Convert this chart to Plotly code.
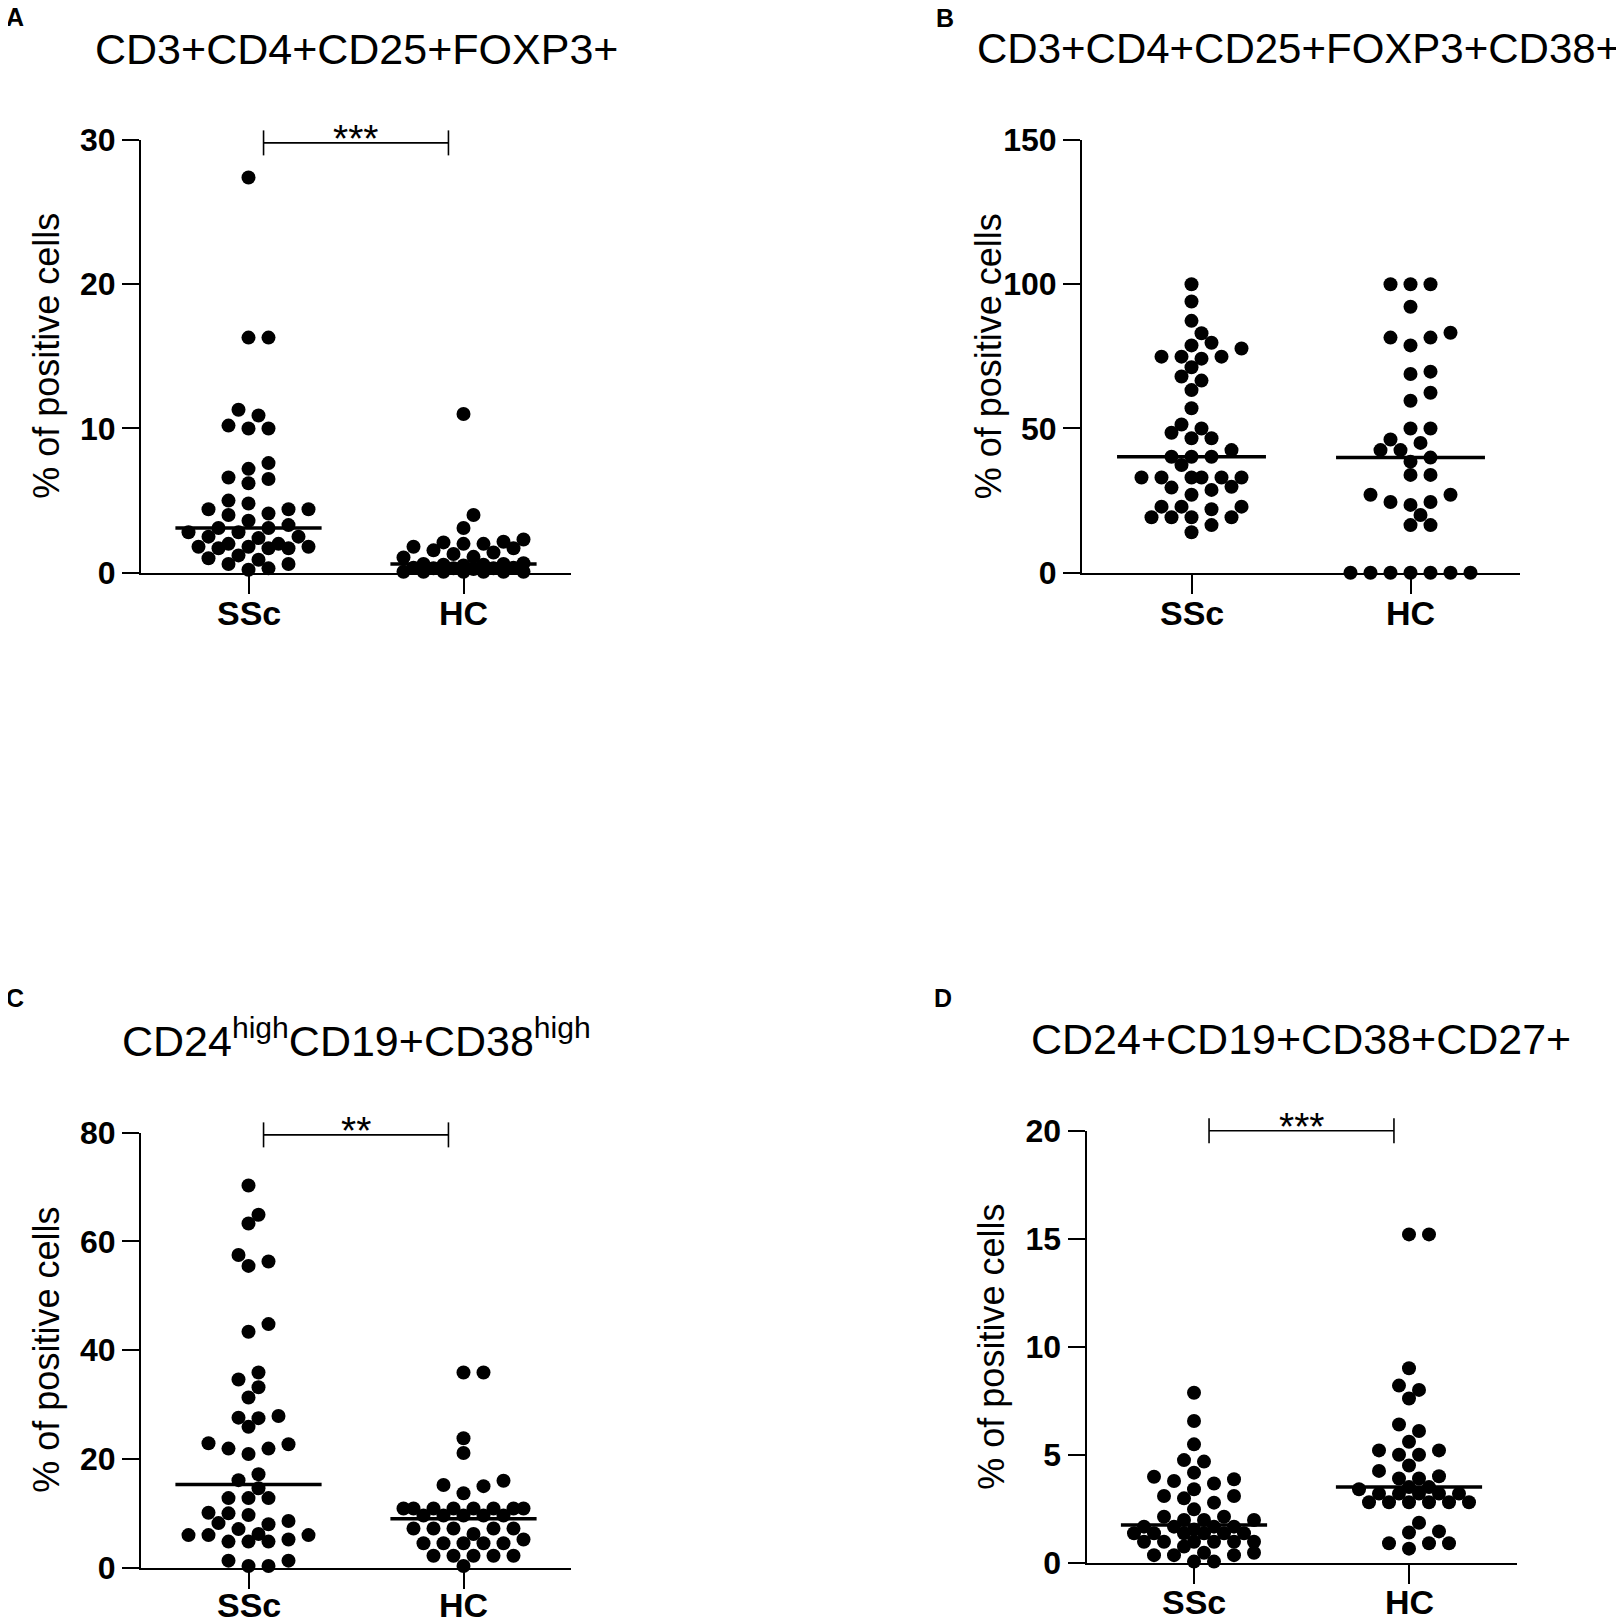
import plotly.graph_objects as go

W, H = 1624, 1620
OFF = 8  # the page puts the figure 8 px in from the top-left corner
FONT = "Liberation Sans, Arial, sans-serif"

# groups on the x axis
categories = ["SSc", "HC"]

# A: CD3+CD4+CD25+FOXP3+ (% of positive cells)
a_ssc = [27.4, 16.3, 16.3, 11.3, 10.9, 10.2, 10.0, 10.0, 7.6, 7.2, 6.6, 6.5, 6.2,
         5.0, 4.8, 4.4, 4.4, 4.4, 4.1, 4.0, 3.6, 3.3, 3.1, 3.1, 2.8, 2.8, 2.5, 2.5,
         2.4, 2.0, 2.0, 1.8, 1.8, 1.8, 1.7, 1.7, 1.7, 1.2, 1.0, 0.9, 0.6, 0.6, 0.3, 0.2]
a_hc = [11.0, 4.0, 3.1, 2.3, 2.15, 2.1, 2.0, 2.0, 1.8, 1.7, 1.55, 1.4, 1.3, 1.1, 1.05,
        0.65, 0.6, 0.6, 0.55, 0.55, 0.5, 0.35, 0.35, 0.3, 0.3, 0.3, 0.25,
        0.07, 0.07, 0.07, 0.07, 0.07, 0.07, 0.07]
a_median = [3.1, 0.6]

# B: CD3+CD4+CD25+FOXP3+CD38+
b_ssc = [100, 94, 87.3, 83, 79.7, 78.8, 77.7, 74.9, 74.9, 74.9, 74.2, 71.2, 68, 66.6,
         63.3, 57, 51.4, 50, 48.5, 46.6, 46.6, 42.5, 40.2, 40.2, 40.2, 37.3, 33, 33,
         33, 33, 33, 33, 29.8, 29.5, 28.7, 27, 22.9, 22.9, 22.9, 22, 19.2, 19.2, 19.2,
         19.2, 16.5, 14]
b_hc = [100, 100, 100, 92.2, 83.2, 81.5, 81.5, 78.8, 69.7, 68.9, 62.4, 59.6, 50, 50,
        46.2, 45, 42.5, 42.5, 39.9, 38.5, 33.9, 33.9, 27, 27, 24.5, 24.5, 23.5, 20,
        16.5, 16.5, 0, 0, 0, 0, 0, 0, 0]
b_median = [40.2, 39.9]

# C: CD24highCD19+CD38high
c_ssc = [70.3, 64.9, 63.3, 57.5, 56.3, 55.5, 44.8, 43.4, 35.9, 34.6, 33.2, 31.3, 27.9,
         27.6, 27.5, 25.9, 22.9, 22.7, 21.9, 21.9, 20.9, 17.2, 16.1, 14.6, 12.8, 12.8,
         12.8, 10.1, 10.0, 9.7, 8.6, 8.2, 8.0, 7.1, 6.2, 6.0, 6.0, 6.0, 5.2, 4.8, 4.8,
         4.8, 1.3, 1.3, 0.3, 0.3]
c_hc = [35.9, 35.9, 23.8, 21.1, 16.0, 15.2, 15.0, 13.7,
        10.9, 10.9, 10.9, 10.9, 10.9, 10.9, 10.9, 10.9,
        9.6, 9.6, 9.6, 9.6, 9.6, 7.2, 7.2, 7.2, 7.2, 7.2, 6.2, 5.2,
        4.5, 4.5, 4.5, 4.5, 4.5, 2.2, 2.2, 2.2, 2.2, 2.2, 0.3]
c_median = [15.3, 9.0]

# D: CD24+CD19+CD38+CD27+
d_ssc = [7.87, 6.56, 5.48, 4.75, 4.68, 4.17, 3.98, 3.86, 3.78, 3.67, 3.40, 3.09, 3.09,
         2.98, 2.78, 2.47, 2.13, 2.13, 1.98, 1.98, 1.98, 1.67, 1.67, 1.67, 1.67, 1.54,
         1.36, 1.36, 1.36, 1.36, 1.36, 1.36, 0.97, 0.97, 0.97, 0.97, 0.97, 0.97, 0.75,
         0.46, 0.46, 0.35, 0.35, 0.35, 0.05, 0.05]
d_hc = [15.2, 15.2, 9.0, 8.2, 8.0, 7.6, 6.4, 6.1, 5.6, 5.2, 5.2, 5.0, 5.0, 4.5, 4.25,
        4.0, 3.9, 3.9, 3.5, 3.5, 3.4, 3.2, 3.2, 3.2, 3.2, 3.2, 2.8, 2.8, 2.8, 2.8, 2.8,
        2.8, 1.85, 1.45, 1.4, 0.9, 0.9, 0.9, 0.65]
d_median = [1.74, 3.5]

a_ticks = [0, 10, 20, 30]
b_ticks = [0, 50, 100, 150]
c_ticks = [0, 20, 40, 60, 80]
d_ticks = [0, 5, 10, 15, 20]

titles = ["CD3+CD4+CD25+FOXP3+",
          "CD3+CD4+CD25+FOXP3+CD38+",
          "CD24<sup>high</sup>CD19+CD38<sup>high</sup>",
          "CD24+CD19+CD38+CD27+"]
letters = ["A", "B", "C", "D"]
stars = ["***", "", "**", "***"]
y_label = "% of positive cells"

# where each panel sits on the page, in pixels: plot box (left, right, top, bottom),
# title centre and size, y title x, letter top-left, category label y, bracket level
panels = [
    dict(ssc=a_ssc, hc=a_hc, med=a_median, ticks=a_ticks, box=(141, 571, 140, 572.7),
         title_xy=(356, 48.5), title_size=43, ytitle_x=46.5, letter_xy=(4, 1.5),
         cat_y=613, sig_y=29.8),
    dict(ssc=b_ssc, hc=b_hc, med=b_median, ticks=b_ticks, box=(1082, 1520, 140, 572.7),
         title_xy=(1298, 48.5), title_size=42, ytitle_x=988, letter_xy=(934, 2.5),
         cat_y=613, sig_y=None),
    dict(ssc=c_ssc, hc=c_hc, med=c_median, ticks=c_ticks, box=(141, 571, 1132.7, 1567.7),
         title_xy=(356, 1038), title_size=43, ytitle_x=46.5, letter_xy=(4, 982),
         cat_y=1605, sig_y=79.6),
    dict(ssc=d_ssc, hc=d_hc, med=d_median, ticks=d_ticks, box=(1086.5, 1516.5, 1130.7, 1562.7),
         title_xy=(1301, 1039), title_size=43, ytitle_x=992, letter_xy=(932, 982),
         cat_y=1602, sig_y=20.0),
]

DOT = 14


def px_x(px):
    return (px - OFF) / W


def px_y(py):
    return 1 - (py - OFF) / H


def swarm(vals, ppu, dot=13.0, grid=10.0, half=60.0):
    # greedy beeswarm in pixel space, GraphPad-like rows
    cands = [0.0]
    k = 1
    while k * grid <= half:
        cands += [k * grid, -k * grid]
        k += 1
    placed = []
    out = [0.0] * len(vals)
    for i in sorted(range(len(vals)), key=lambda j: vals[j]):
        y = vals[i] * ppu
        best, best_d = None, -1.0
        for c in cands:
            d = min((((c - px) ** 2 + (y - py) ** 2) ** 0.5 for px, py in placed), default=1e9)
            if d >= dot:
                best = c
                break
            if d > best_d + 1e-9:
                best, best_d = c, d
        placed.append((best, y))
        out[i] = best
    return out


fig = go.Figure()
annotations = []
shapes = []
layout = {}

for n, p in enumerate(panels):
    sfx = "" if n == 0 else str(n + 1)
    left, right, top, bottom = p["box"]
    ymax = p["ticks"][-1]
    ppu = (bottom - top) / ymax
    ppc = (right - left) / 2.0

    for k, vals in enumerate([p["ssc"], p["hc"]]):
        offs = swarm(vals, ppu, dot=13.0)
        fig.add_trace(go.Scatter(
            x=[k + o / ppc for o in offs], y=vals, mode="markers",
            marker=dict(size=DOT, color="black", line=dict(width=0)),
            cliponaxis=False, showlegend=False, hoverinfo="y",
            xaxis="x" + sfx, yaxis="y" + sfx))
        fig.add_trace(go.Scatter(
            x=[k - 0.34, k + 0.34], y=[p["med"][k]] * 2, mode="lines",
            line=dict(color="black", width=3.5), cliponaxis=False,
            showlegend=False, hoverinfo="skip", xaxis="x" + sfx, yaxis="y" + sfx))
        # category label under its tick
        annotations.append(dict(text="<b>" + categories[k] + "</b>",
                                x=px_x(left + (k + 0.5) * ppc), y=px_y(p["cat_y"]),
                                xref="paper", yref="paper", xanchor="center", yanchor="middle",
                                showarrow=False, font=dict(family=FONT, size=34, color="black")))

    layout["xaxis" + sfx] = dict(
        domain=[px_x(left), px_x(right)], range=[-0.5, 1.5], anchor="y" + sfx,
        tickvals=[0, 1], showticklabels=False, ticks="outside", ticklen=19,
        tickwidth=2, tickcolor="black", showline=True, linewidth=2, linecolor="black",
        showgrid=False, zeroline=False, fixedrange=True)
    layout["yaxis" + sfx] = dict(
        domain=[px_y(bottom), px_y(top)], range=[0, ymax], anchor="x" + sfx,
        tickvals=p["ticks"], ticktext=[str(t) for t in p["ticks"]], ticks="outside",
        ticklen=17, tickwidth=2, tickcolor="black", showline=True, linewidth=2,
        linecolor="black", showgrid=False, zeroline=False, fixedrange=True,
        tickfont=dict(family=FONT, size=32, color="black", weight="bold"))

    tx, ty = p["title_xy"]
    annotations.append(dict(text=titles[n], x=px_x(tx), y=px_y(ty), xref="paper", yref="paper",
                            xanchor="center", yanchor="middle", showarrow=False,
                            font=dict(family=FONT, size=p["title_size"], color="black")))
    lx, ly = p["letter_xy"]
    annotations.append(dict(text="<b>" + letters[n] + "</b>", x=px_x(lx), y=px_y(ly),
                            xref="paper", yref="paper", xanchor="left", yanchor="top",
                            showarrow=False, font=dict(family=FONT, size=25, color="black")))
    annotations.append(dict(text=y_label, x=px_x(p["ytitle_x"]), y=px_y((top + bottom) / 2),
                            xref="paper", yref="paper", xanchor="center", yanchor="middle",
                            textangle=-90, showarrow=False,
                            font=dict(family=FONT, size=36, color="black")))

    if p["sig_y"] is not None:
        yb = bottom - p["sig_y"] * ppu          # bracket level on the page
        xa = left + (0.07 + 0.5) * ppc
        xb = left + (0.93 + 0.5) * ppc
        line = dict(color="black", width=1.6)
        shapes.append(dict(type="line", xref="paper", yref="paper",
                           x0=px_x(xa), x1=px_x(xb), y0=px_y(yb), y1=px_y(yb), line=line))
        for xe in (xa, xb):
            shapes.append(dict(type="line", xref="paper", yref="paper",
                               x0=px_x(xe), x1=px_x(xe), y0=px_y(yb - 12.5), y1=px_y(yb + 12.5),
                               line=line))
        annotations.append(dict(text=stars[n], x=px_x((xa + xb) / 2), y=px_y(yb),
                                xref="paper", yref="paper",
                                xanchor="center", yanchor="bottom", yshift=-19,
                                showarrow=False, font=dict(family=FONT, size=39, color="black")))

fig.update_layout(
    width=W, height=H, margin=dict(l=0, r=0, t=0, b=0, autoexpand=False),
    paper_bgcolor="white", plot_bgcolor="white",
    annotations=annotations, shapes=shapes, **layout)

fig.write_html("out.html")
